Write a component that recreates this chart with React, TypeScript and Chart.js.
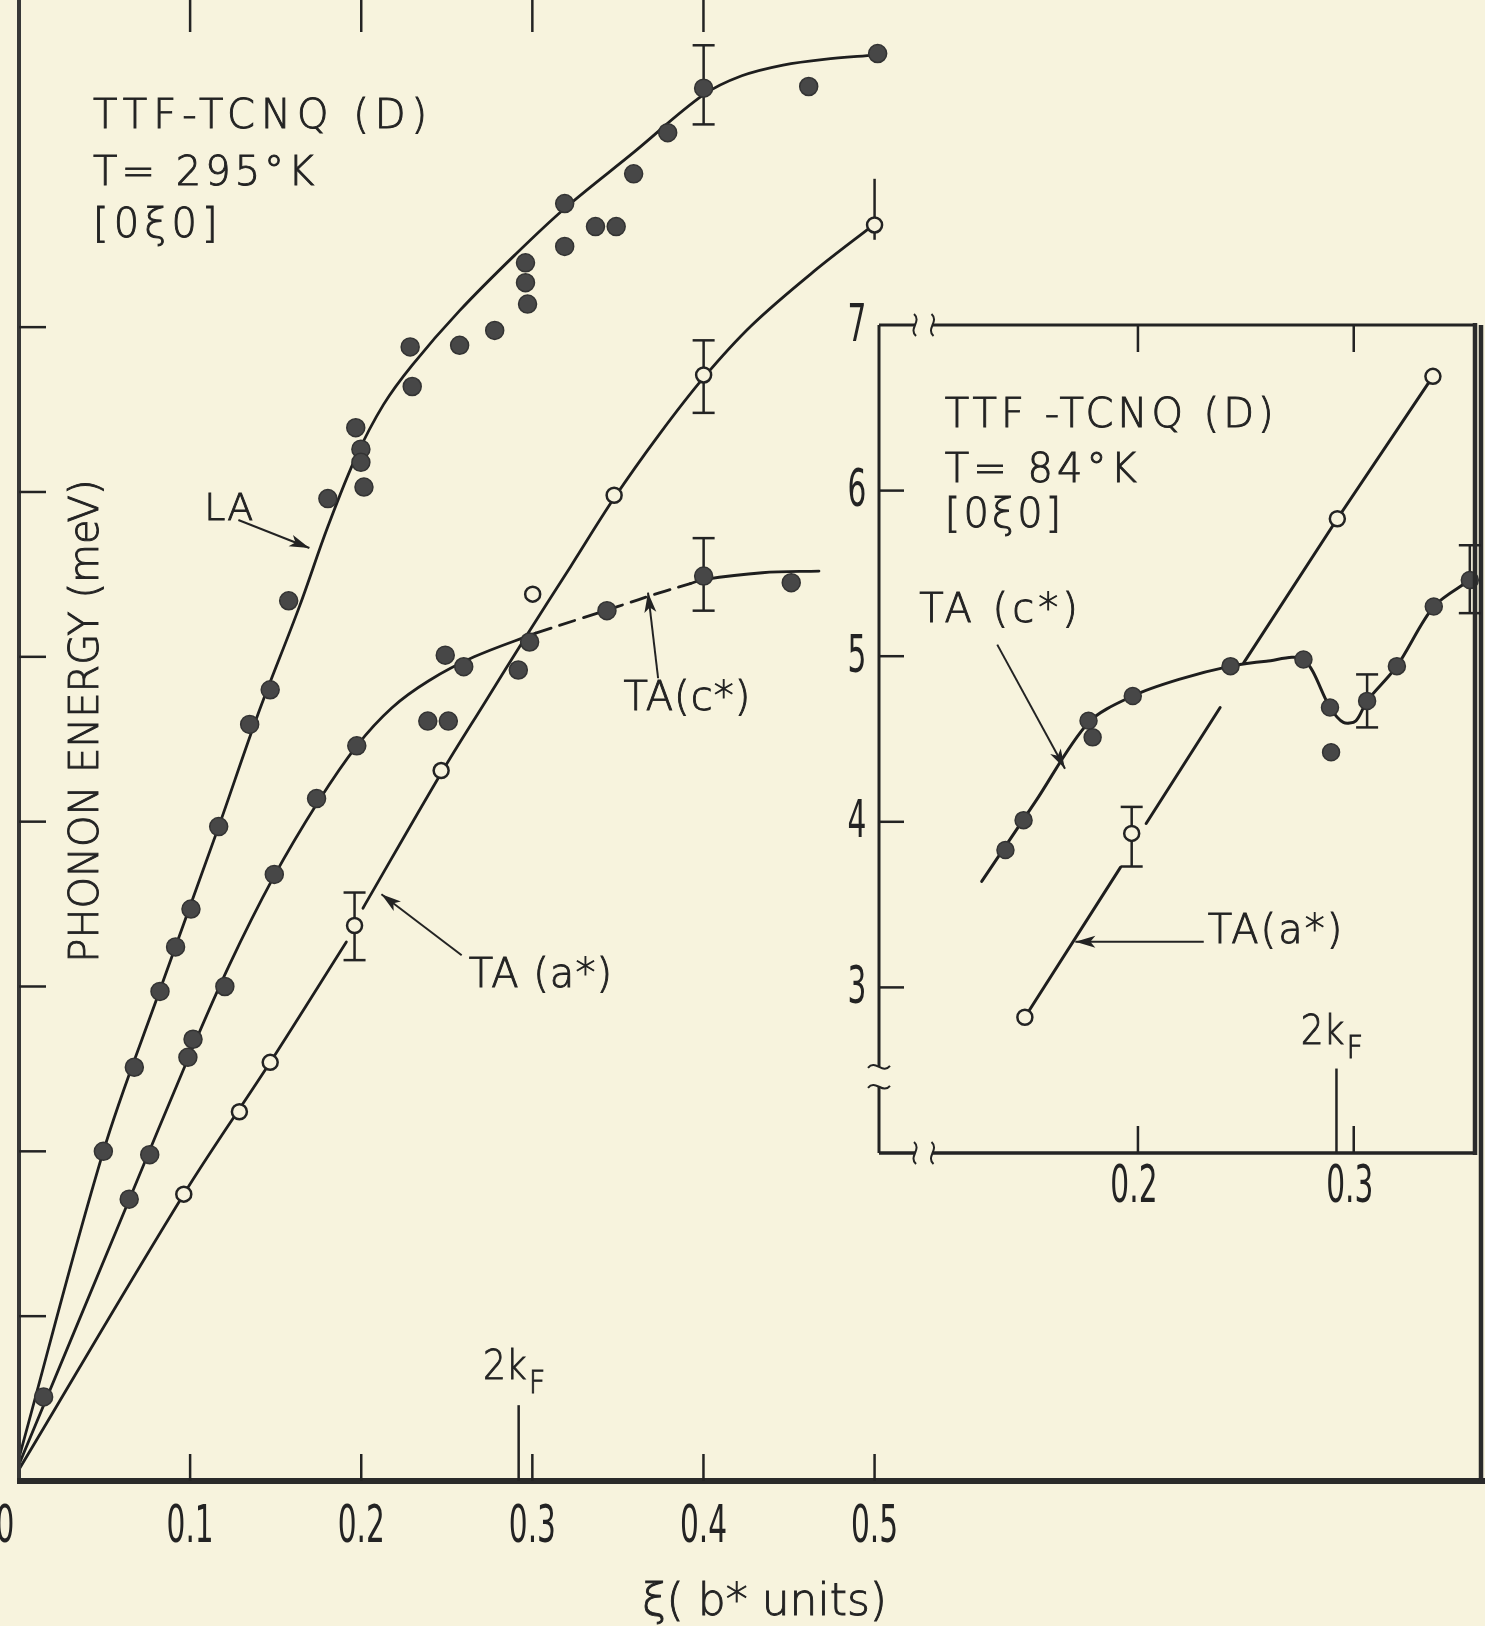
import React, { useEffect, useRef } from 'react';
import { Chart, registerables } from 'chart.js';

Chart.register(...registerables);

type Pt = [number, number];

// ---------------- Main panel: TTF-TCNQ (D), T = 295 K ----------------
const MAIN_X_TICKS = [0.1, 0.2, 0.3, 0.4, 0.5];
const MAIN_X_TICK_LABELS = ['0.1', '0.2', '0.3', '0.4', '0.5'];
const MAIN_X_ZERO_LABEL = '0';
const MAIN_TOP_TICKS = [0.1, 0.2, 0.3, 0.4];
const MAIN_Y_TICKS = [1, 2, 3, 4, 5, 6, 7];
const TWO_KF = 0.292;

// measured points (xi in b* units, energy in meV)
const LA_295_PTS: Pt[] = [
  [0.0493, 2.0], [0.0674, 2.51], [0.0824, 2.97], [0.0915, 3.24], [0.1005, 3.47],
  [0.1167, 3.97], [0.1348, 4.59], [0.1468, 4.8], [0.1576, 5.34], [0.1805, 5.96],
  [0.1968, 6.39], [0.1998, 6.26], [0.1998, 6.18], [0.2016, 6.03], [0.2286, 6.88],
  [0.2298, 6.64], [0.2575, 6.89], [0.278, 6.98], [0.296, 7.39], [0.296, 7.27],
  [0.2972, 7.14], [0.3189, 7.75], [0.3189, 7.49], [0.3369, 7.61], [0.349, 7.61],
  [0.3592, 7.93], [0.3791, 8.18], [0.4001, 8.45], [0.4615, 8.46], [0.5018, 8.66],
];
const TAC_295_PTS: Pt[] = [
  [0.0144, 0.51], [0.0644, 1.71], [0.0764, 1.98], [0.0987, 2.57], [0.1017, 2.68],
  [0.1203, 3.0], [0.1492, 3.68], [0.1739, 4.14], [0.1974, 4.46], [0.2389, 4.61],
  [0.2509, 4.61], [0.2491, 5.01], [0.2599, 4.94], [0.2918, 4.92], [0.2984, 5.09],
  [0.3436, 5.28], [0.4001, 5.49], [0.4513, 5.45],
];
const TAA_295_PTS: Pt[] = [
  [0.0963, 1.74], [0.1288, 2.24], [0.1468, 2.54], [0.1961, 3.37], [0.2467, 4.31],
  [0.3002, 5.38], [0.3478, 5.98], [0.4001, 6.71], [0.5, 7.62],
];
// error bars: [xi, low, high]
const ERR_295: number[][] = [
  [0.4001, 8.23, 8.71], [0.4001, 5.28, 5.72], [0.4001, 6.48, 6.92], [0.1961, 3.16, 3.57], [0.5, 7.53, 7.9],
];
const ERR_295_CAPPED = [true, true, true, true, false];

// hand-drawn guide curves
const LA_295_FIT: Pt[] = [
  [0, 0.14], [0.0493, 2.0], [0.0824, 2.98], [0.1167, 3.97], [0.1396, 4.65], [0.1637, 5.3],
  [0.1805, 5.79], [0.1968, 6.21], [0.213, 6.53], [0.2298, 6.77], [0.2575, 7.1], [0.29, 7.44],
  [0.3189, 7.72], [0.3592, 8.06], [0.4001, 8.41], [0.4224, 8.525], [0.4465, 8.59],
  [0.4705, 8.625], [0.5, 8.65],
];
const TAC_295_FIT_A: Pt[] = [
  [0, 0.1], [0.0644, 1.706], [0.0987, 2.56], [0.1227, 3.125], [0.1486, 3.66], [0.1751, 4.125],
  [0.1974, 4.46], [0.2178, 4.69], [0.2395, 4.855], [0.266, 5.0], [0.302, 5.144],
];
const TAC_295_FIT_DASHED: Pt[] = [
  [0.302, 5.144], [0.3261, 5.225], [0.3502, 5.306], [0.3742, 5.388], [0.3923, 5.444],
];
const TAC_295_FIT_B: Pt[] = [
  [0.3923, 5.444], [0.4001, 5.469], [0.4344, 5.51], [0.4675, 5.52],
];
const TAA_295_FIT_A: Pt[] = [
  [0, 0.07], [0.0963, 1.74], [0.1468, 2.54], [0.1913, 3.27],
];
const TAA_295_FIT_B: Pt[] = [
  [0.201, 3.475], [0.2467, 4.294], [0.272, 4.719], [0.2972, 5.138], [0.3225, 5.55],
  [0.3478, 5.963], [0.3742, 6.35], [0.4001, 6.694], [0.4284, 7.013], [0.4645, 7.338], [0.5, 7.625],
];

// ---------------- Inset: TTF-TCNQ (D), T = 84 K ----------------
const INSET_X_TICKS = [0.2, 0.3];
const INSET_X_TICK_LABELS = ['0.2', '0.3'];
const INSET_Y_TICKS = [3, 4, 5, 6, 7];
const INSET_Y_TICK_LABELS = ['3', '4', '5', '6', '7'];

const TAC_84_PTS: Pt[] = [
  [0.1386, 3.83], [0.147, 4.01], [0.1771, 4.61], [0.179, 4.51], [0.1976, 4.76],
  [0.2429, 4.94], [0.2767, 4.98], [0.289, 4.69], [0.2895, 4.42], [0.3062, 4.73],
  [0.32, 4.94], [0.3371, 5.3], [0.3538, 5.46],
];
const TAA_84_PTS: Pt[] = [
  [0.1476, 2.82], [0.1971, 3.93], [0.2924, 5.83], [0.3367, 6.69],
];
const ERR_84: number[][] = [
  [0.1971, 3.73, 4.09], [0.3062, 4.57, 4.89], [0.3538, 5.26, 5.67],
];
const TAC_84_FIT: Pt[] = [
  [0.1276, 3.64], [0.1524, 4.12], [0.1771, 4.6], [0.1976, 4.76], [0.219, 4.86],
  [0.2429, 4.94], [0.2595, 4.97], [0.2767, 4.98], [0.289, 4.69], [0.2952, 4.6],
  [0.301, 4.61], [0.3062, 4.73], [0.32, 4.94], [0.3371, 5.3], [0.3538, 5.46],
];
const TAA_84_FIT_A: Pt[] = [[0.1476, 2.82], [0.1919, 3.725]];
const TAA_84_FIT_B: Pt[] = [[0.2038, 3.99], [0.2381, 4.69]];
const TAA_84_FIT_C: Pt[] = [[0.249, 4.96], [0.2924, 5.83], [0.3367, 6.69]];

// ---------------- styling ----------------
const BG = '#f7f3dd';
const INK = '#232323';
const DOT = '#474747';
const FONT = '"DejaVu Sans", "Liberation Sans", sans-serif';

const toXY = (arr: Pt[]) => arr.map(([x, y]) => ({ x, y }));

function filled(label: string, pts: Pt[], r = 9) {
  return {
    label, data: toXY(pts), showLine: false, pointRadius: r, pointHoverRadius: r,
    pointBackgroundColor: DOT, pointBorderColor: '#333', pointBorderWidth: 1.5,
    order: 0, clip: false as any,
  };
}
function open(label: string, pts: Pt[], r = 7.5) {
  return {
    label, data: toXY(pts), showLine: false, pointRadius: r, pointHoverRadius: r,
    pointBackgroundColor: BG, pointBorderColor: INK, pointBorderWidth: 2.5,
    order: 0, clip: false as any,
  };
}
function curve(label: string, pts: Pt[], dash: number[] = [], tension = 0.35, w = 2.8) {
  return {
    label, data: toXY(pts), showLine: true, pointRadius: 0, pointHoverRadius: 0,
    borderColor: '#1e1e1e', borderWidth: w, borderDash: dash, borderCapStyle: 'round',
    borderJoinStyle: 'round', cubicInterpolationMode: 'default', tension, fill: false,
    order: 2, clip: false as any,
  };
}

function txt(ctx: any, s: string, x: number, y: number, o: any = {}) {
  const { size = 40, sx = 1, align = 'left', weight = 200, sp = 0, rot = 0, stroke = 0.9 } = o;
  ctx.save();
  ctx.translate(x, y);
  if (rot) ctx.rotate(rot);
  ctx.scale(sx, 1);
  ctx.font = `${weight} ${size}px ${FONT}`;
  ctx.letterSpacing = `${sp}px`;
  ctx.textAlign = align;
  ctx.textBaseline = 'middle';
  ctx.fillStyle = INK;
  ctx.fillText(s, 0, 0);
  if (stroke > 0) {
    ctx.strokeStyle = INK;
    ctx.lineWidth = stroke;
    ctx.strokeText(s, 0, 0);
  }
  ctx.restore();
}

function line(ctx: any, x1: number, y1: number, x2: number, y2: number, w = 2.5, c = INK) {
  ctx.save();
  ctx.strokeStyle = c;
  ctx.lineWidth = w;
  ctx.lineCap = 'butt';
  ctx.beginPath();
  ctx.moveTo(x1, y1);
  ctx.lineTo(x2, y2);
  ctx.stroke();
  ctx.restore();
}

function arrow(ctx: any, x1: number, y1: number, x2: number, y2: number) {
  line(ctx, x1, y1, x2, y2, 2);
  const a = Math.atan2(y2 - y1, x2 - x1);
  const L = 20, W = 6;
  ctx.save();
  ctx.fillStyle = INK;
  ctx.beginPath();
  ctx.moveTo(x2, y2);
  ctx.lineTo(x2 - L * Math.cos(a) + W * Math.sin(a), y2 - L * Math.sin(a) - W * Math.cos(a));
  ctx.lineTo(x2 - L * 0.75 * Math.cos(a), y2 - L * 0.75 * Math.sin(a));
  ctx.lineTo(x2 - L * Math.cos(a) - W * Math.sin(a), y2 - L * Math.sin(a) + W * Math.cos(a));
  ctx.closePath();
  ctx.fill();
  ctx.restore();
}

function kF(ctx: any, cx: number, cy: number) {
  txt(ctx, '2k', cx + 8, cy, { size: 40, align: 'right', sx: 0.9 });
  txt(ctx, 'F', cx + 10, cy + 16, { size: 32, align: 'left', sx: 0.9 });
}

function errBars(ctx: any, xs: any, ys: any, bars: number[][], capped: boolean[]) {
  bars.forEach((b, i) => {
    const x = xs.getPixelForValue(b[0]);
    const yl = ys.getPixelForValue(b[1]);
    const yh = ys.getPixelForValue(b[2]);
    line(ctx, x, yl, x, yh, 2.5);
    if (capped[i]) {
      line(ctx, x - 11, yl, x + 11, yl, 2.5);
      line(ctx, x - 11, yh, x + 11, yh, 2.5);
    }
  });
}

function tildeV(ctx: any, x: number, y: number, h = 11) {
  ctx.save();
  ctx.strokeStyle = INK;
  ctx.lineWidth = 2;
  ctx.beginPath();
  ctx.moveTo(x - 1, y - h);
  ctx.bezierCurveTo(x + 7, y - h / 3, x - 7, y + h / 3, x + 1, y + h);
  ctx.stroke();
  ctx.restore();
}
function tildeH(ctx: any, x: number, y: number, w = 11) {
  ctx.save();
  ctx.strokeStyle = INK;
  ctx.lineWidth = 2;
  ctx.beginPath();
  ctx.moveTo(x - w, y + 1);
  ctx.bezierCurveTo(x - w / 3, y - 8, x + w / 3, y + 8, x + w, y - 1);
  ctx.stroke();
  ctx.restore();
}

const TICK_FONT = { size: 52, sx: 0.57, align: 'center', weight: 400, stroke: 0 };

// ---------------- main chart plugin ----------------
const mainPlugin = {
  id: 'mainDecor',
  beforeDraw(chart: any) {
    const { ctx, width, height } = chart;
    ctx.save();
    ctx.fillStyle = BG;
    ctx.fillRect(0, 0, width, height);
    ctx.restore();
  },
  beforeDatasetsDraw(chart: any) {
    errBars(chart.ctx, chart.scales.x, chart.scales.y, ERR_295, ERR_295_CAPPED);
  },
  afterDatasetsDraw(chart: any) {
    const { ctx, chartArea, width } = chart;
    const xs = chart.scales.x, ys = chart.scales.y;
    const P = (x: number, y: number) => [xs.getPixelForValue(x), ys.getPixelForValue(y)];
    const L = chartArea.left, B = chartArea.bottom;

    // axes
    line(ctx, L, 0, L, B, 4, '#373737');
    line(ctx, L - 2, B, width, B, 6, '#2a2a2a');
    // right border shared with inset frame
    line(ctx, 1481, 325, 1481, B, 4.5, '#2a2a2a');

    // ticks
    MAIN_Y_TICKS.forEach((v) => {
      const y = ys.getPixelForValue(v);
      line(ctx, L, y, L + 27, y, 2.5);
    });
    MAIN_X_TICKS.forEach((v, i) => {
      const x = xs.getPixelForValue(v);
      line(ctx, x, B, x, B - 27, 2.5);
      txt(ctx, MAIN_X_TICK_LABELS[i], x, B + 47, TICK_FONT);
    });
    txt(ctx, MAIN_X_ZERO_LABEL, 5, B + 47, TICK_FONT);
    MAIN_TOP_TICKS.forEach((v) => {
      const x = xs.getPixelForValue(v);
      line(ctx, x, 0, x, 32, 2.5);
    });

    // 2kF marker
    const [kx, k0] = P(TWO_KF, 0);
    const [, k1] = P(TWO_KF, 0.46);
    line(ctx, kx, k0, kx, k1, 2.5);
    const [, kl] = P(TWO_KF, 0.68);
    kF(ctx, kx, kl);

    // axis titles
    txt(ctx, 'ξ( b* units)', xs.getPixelForValue(0.4357), B + 123, { size: 44, sx: 1, align: 'center' });
    const [tx, ty] = P(0.0403, 4.61);
    txt(ctx, 'PHONON ENERGY (meV)', tx, ty, { size: 40, sx: 1.0, align: 'center', rot: -Math.PI / 2 });

    // panel legend text
    let p = P(0.0433, 8.27);
    txt(ctx, 'TTF-TCNQ (D)', p[0], p[1], { size: 40, sp: 6 });
    p = P(0.0433, 7.925);
    txt(ctx, 'T= 295°K', p[0], p[1], { size: 40, sp: 4 });
    p = P(0.0433, 7.61);
    txt(ctx, '[0ξ0]', p[0], p[1], { size: 40, sp: 5 });

    // branch labels and arrows
    p = P(0.1083, 5.89);
    txt(ctx, 'LA', p[0], p[1], { size: 38, sp: 1 });
    let a = P(0.1282, 5.83), b = P(0.1697, 5.66);
    arrow(ctx, a[0], a[1], b[0], b[1]);

    p = P(0.3532, 4.74);
    txt(ctx, 'TA(c*)', p[0], p[1], { size: 40, sp: 1 });
    a = P(0.3735, 4.87); b = P(0.3676, 5.39);
    arrow(ctx, a[0], a[1], b[0], b[1]);

    p = P(0.2629, 3.06);
    txt(ctx, 'TA (a*)', p[0], p[1], { size: 40, sp: 1 });
    a = P(0.2587, 3.19); b = P(0.2118, 3.56);
    arrow(ctx, a[0], a[1], b[0], b[1]);
  },
};

// ---------------- inset chart plugin ----------------
const insetPlugin = {
  id: 'insetDecor',
  beforeDraw(chart: any) {
    const { ctx, chartArea: c } = chart;
    ctx.save();
    ctx.fillStyle = BG;
    ctx.fillRect(c.left, c.top, c.right - c.left, c.bottom - c.top);
    ctx.restore();
  },
  beforeDatasetsDraw(chart: any) {
    errBars(chart.ctx, chart.scales.x, chart.scales.y, ERR_84, [true, true, true]);
  },
  afterDatasetsDraw(chart: any) {
    const { ctx, chartArea: c } = chart;
    const xs = chart.scales.x, ys = chart.scales.y;
    const P = (x: number, y: number) => [xs.getPixelForValue(x), ys.getPixelForValue(y)];

    // frame with axis breaks
    const g1 = xs.getPixelForValue(0.0967), g2 = xs.getPixelForValue(0.1048);
    line(ctx, c.left, c.top, g1, c.top, 3);
    line(ctx, g2, c.top, c.right, c.top, 3);
    tildeV(ctx, g1, c.top);
    tildeV(ctx, g2, c.top);
    line(ctx, c.left, c.bottom, g1, c.bottom, 3.5);
    line(ctx, g2, c.bottom, c.right, c.bottom, 3.5);
    tildeV(ctx, g1, c.bottom);
    tildeV(ctx, g2, c.bottom);
    const h1 = ys.getPixelForValue(2.52), h2 = ys.getPixelForValue(2.4);
    line(ctx, c.left, c.top, c.left, h1, 3);
    line(ctx, c.left, h2, c.left, c.bottom, 3);
    tildeH(ctx, c.left, h1);
    tildeH(ctx, c.left, h2);
    line(ctx, c.right, c.top - 2, c.right, c.bottom + 2, 4.5, '#2a2a2a');

    // ticks & labels
    INSET_Y_TICKS.forEach((v, i) => {
      const y = ys.getPixelForValue(v);
      if (v < 7) line(ctx, c.left, y, c.left + 25, y, 2.5);
      txt(ctx, INSET_Y_TICK_LABELS[i], c.left - 22, y + 2, TICK_FONT);
    });
    INSET_X_TICKS.forEach((v, i) => {
      const x = xs.getPixelForValue(v);
      line(ctx, x, c.top, x, c.top + 27, 2.5);
      line(ctx, x, c.bottom, x, c.bottom - 27, 2.5);
      txt(ctx, INSET_X_TICK_LABELS[i], x - 4, c.bottom + 35, TICK_FONT);
    });

    // 2kF marker
    const [kx] = P(TWO_KF, 2);
    line(ctx, kx, c.bottom, kx, ys.getPixelForValue(2.51), 2.5);
    kF(ctx, kx, ys.getPixelForValue(2.72));

    // legend text
    let p = P(0.1105, 6.444);
    txt(ctx, 'TTF -TCNQ (D)', p[0], p[1], { size: 40, sp: 4 });
    p = P(0.1105, 6.112);
    txt(ctx, 'T= 84°K', p[0], p[1], { size: 40, sp: 4 });
    p = P(0.1105, 5.844);
    txt(ctx, '[0ξ0]', p[0], p[1], { size: 40, sp: 3 });

    p = P(0.0986, 5.27);
    txt(ctx, 'TA (c*)', p[0], p[1], { size: 40, sp: 4 });
    let a = P(0.1348, 5.07), b = P(0.1662, 4.32);
    arrow(ctx, a[0], a[1], b[0], b[1]);

    p = P(0.2324, 3.33);
    txt(ctx, 'TA(a*)', p[0], p[1], { size: 40, sp: 2 });
    a = P(0.2305, 3.275); b = P(0.171, 3.275);
    arrow(ctx, a[0], a[1], b[0], b[1]);
  },
};

function mainConfig(): any {
  return {
    type: 'scatter',
    data: {
      datasets: [
        filled('LA 295 K', LA_295_PTS),
        filled('TA(c*) 295 K', TAC_295_PTS),
        open('TA(a*) 295 K', TAA_295_PTS),
        curve('LA fit', LA_295_FIT),
        curve('TA(c*) fit', TAC_295_FIT_A),
        curve('TA(c*) fit (dashed)', TAC_295_FIT_DASHED, [16, 9]),
        curve('TA(c*) fit (end)', TAC_295_FIT_B),
        curve('TA(a*) fit', TAA_295_FIT_A),
        curve('TA(a*) fit (upper)', TAA_295_FIT_B),
      ],
    },
    options: {
      animation: false,
      responsive: false,
      devicePixelRatio: 1,
      layout: { padding: { left: 19, top: 1, right: 0, bottom: 145 } },
      scales: {
        x: { type: 'linear', min: 0, max: 0.8506, display: false },
        y: { type: 'linear', min: 0, max: 8.921, display: false },
      },
      plugins: { legend: { display: false }, tooltip: { enabled: false } },
      events: [],
    },
    plugins: [mainPlugin],
  };
}

function insetConfig(): any {
  return {
    type: 'scatter',
    data: {
      datasets: [
        filled('TA(c*) 84 K', TAC_84_PTS, 8.5),
        open('TA(a*) 84 K', TAA_84_PTS, 7.5),
        curve('TA(c*) 84 K fit', TAC_84_FIT, [], 0.3, 3),
        curve('TA(a*) 84 K fit A', TAA_84_FIT_A, [], 0, 3),
        curve('TA(a*) 84 K fit B', TAA_84_FIT_B, [], 0, 3),
        curve('TA(a*) 84 K fit C', TAA_84_FIT_C, [], 0, 3),
      ],
    },
    options: {
      animation: false,
      responsive: false,
      devicePixelRatio: 1,
      layout: { padding: { left: 99, top: 50, right: 4, bottom: 77 } },
      scales: {
        x: { type: 'linear', min: 0.08, max: 0.3562, display: false },
        y: { type: 'linear', min: 2.0, max: 7.0, display: false },
      },
      plugins: { legend: { display: false }, tooltip: { enabled: false } },
      events: [],
    },
    plugins: [insetPlugin],
  };
}

export default function App() {
  const mainRef = useRef<HTMLCanvasElement>(null);
  const insetRef = useRef<HTMLCanvasElement>(null);

  useEffect(() => {
    document.body.style.margin = '0';
    document.body.style.background = BG;
    document.documentElement.style.overflow = 'hidden';
    const m = new Chart(mainRef.current as HTMLCanvasElement, mainConfig());
    const i = new Chart(insetRef.current as HTMLCanvasElement, insetConfig());
    return () => {
      m.destroy();
      i.destroy();
    };
  }, []);

  return (
    <div style={{ position: 'relative', width: 1485, height: 1626, background: BG, overflow: 'hidden' }}>
      <canvas
        ref={mainRef}
        width={1485}
        height={1626}
        style={{ position: 'absolute', left: 0, top: 0, width: 1485, height: 1626 }}
      />
      <canvas
        ref={insetRef}
        width={705}
        height={955}
        style={{ position: 'absolute', left: 780, top: 275, width: 705, height: 955 }}
      />
    </div>
  );
}
